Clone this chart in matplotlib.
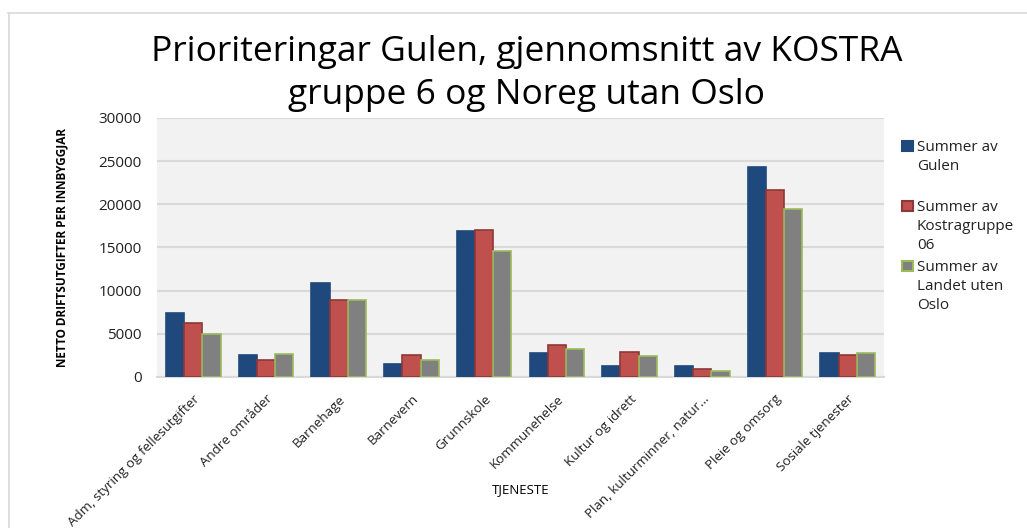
import numpy as np
import matplotlib.pyplot as plt
from matplotlib.lines import Line2D
from matplotlib.patches import Rectangle

plt.rcParams['font.family'] = ['Open Sans', 'DejaVu Sans']

tjenester = ['Adm, styring og fellesutgifter', 'Andre områder', 'Barnehage', 'Barnevern',
             'Grunnskole', 'Kommunehelse', 'Kultur og idrett', 'Plan, kulturminner, natur...',
             'Pleie og omsorg', 'Sosiale tjenester']
gulen = [7400, 2500, 10870, 1460, 16920, 2740, 1240, 1310, 24330, 2740]
kostra = [6290, 2000, 8870, 2500, 17080, 3660, 2890, 930, 21630, 2500]
landet = [4940, 2620, 8940, 1930, 14570, 3280, 2390, 700, 19430, 2780]

series = ['Summer av\nGulen', 'Summer av\nKostragruppe\n06', 'Summer av\nLandet uten\nOslo']
fills = ['#1F497D', '#C0504D', '#808080']
edges = ['#1F497D', '#8C3836', '#9BBB59']

W, H = 1027, 528
fig = plt.figure(figsize=(W / 100, H / 100), dpi=100)
ax = fig.add_axes([157 / W, 1 - 377 / H, 727 / W, 259 / H])
ax.set_facecolor('#F2F2F2')

x = np.arange(len(tjenester))
w = 0.25
for i, vals in enumerate([gulen, kostra, landet]):
    ax.bar(x + (i - 1) * w, vals, w, color=fills[i], edgecolor=edges[i],
           linewidth=1.2, label=series[i], zorder=3)

ax.set_xlim(-0.5, len(tjenester) - 0.5)
ax.set_ylim(0, 30000)
ax.set_yticks(range(0, 30001, 5000))
ax.grid(axis='y', color='#D9D9D9', linewidth=1.5, zorder=0)
for s in ['top', 'right', 'left']:
    ax.spines[s].set_visible(False)
ax.spines['bottom'].set_color('#D9D9D9')
ax.spines['bottom'].set_linewidth(1.5)
ax.tick_params(axis='both', length=0, colors='#222222')
ax.tick_params(axis='y', pad=11, labelsize=11)
ax.tick_params(axis='x', pad=11)
ax.set_xticks(x)
ax.set_xticklabels(tjenester, rotation=45, ha='right', rotation_mode='anchor', fontsize=9.6)

ax.set_ylabel('NETTO DRIFTSUTGIFTER PER INNBYGGJAR', fontsize=8.5, fontweight='bold', labelpad=22)
ax.set_xlabel('TJENESTE', fontsize=9.5)
ax.xaxis.set_label_coords(0.5, -0.41)

fig.text(0.513, 1 - 35 / H, 'Prioriteringar Gulen, gjennomsnitt av KOSTRA\ngruppe 6 og Noreg utan Oslo',
         ha='center', va='top', fontsize=25.5, linespacing=1.35)

# legend, one slot of 60 px per series, marker next to the first line
for i in range(3):
    top = 140 + 60 * i
    fig.add_artist(Rectangle((902 / W, 1 - (top + 11) / H), 11 / W, 10 / H,
                             facecolor=fills[i], edgecolor=edges[i], linewidth=1.5,
                             transform=fig.transFigure))
    fig.text(917 / W, 1 - top / H, series[i], ha='left', va='top',
             fontsize=11, linespacing=1.36, color='#222222')

fig.add_artist(Line2D([8 / W, 1], [1 - 12.5 / H] * 2, color='#D9D9D9', linewidth=1.2))
fig.add_artist(Line2D([8.5 / W] * 2, [0, 1 - 12.5 / H], color='#D9D9D9', linewidth=1.2))

fig.savefig('out.png', dpi=100)
